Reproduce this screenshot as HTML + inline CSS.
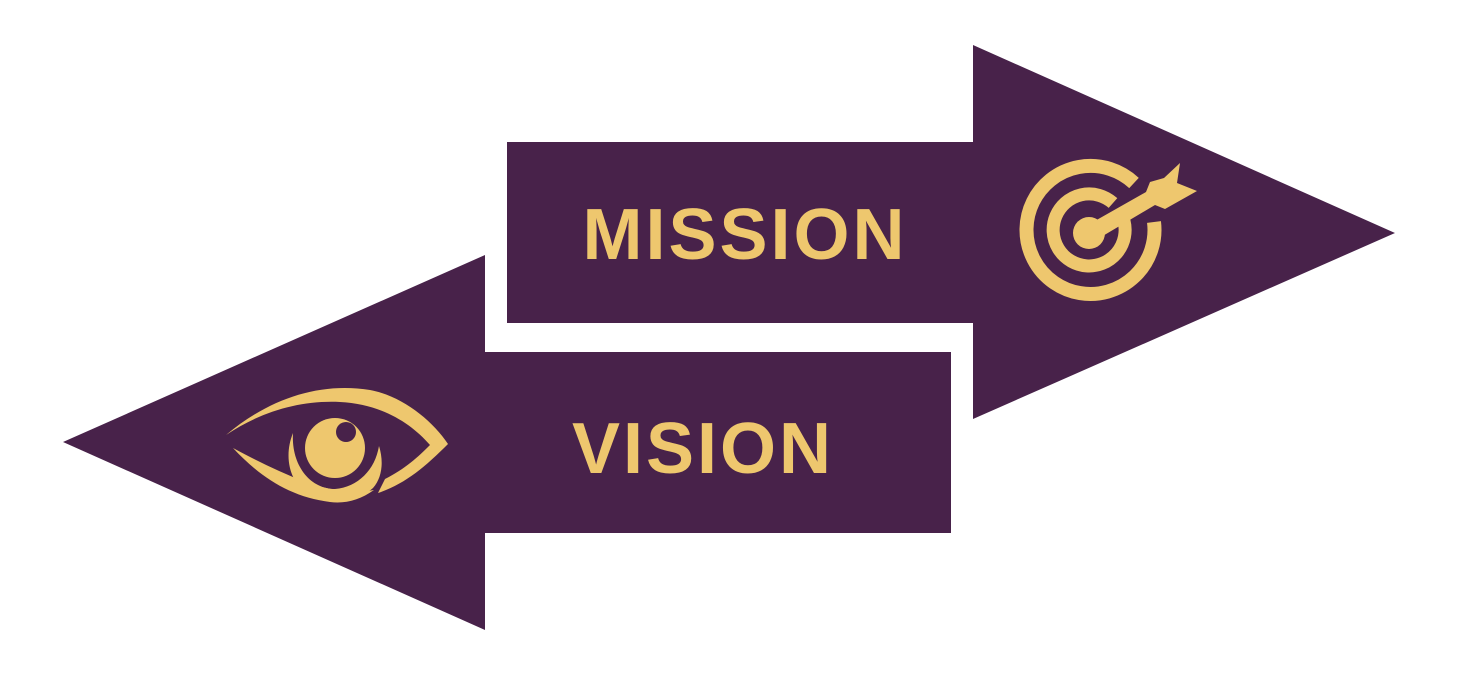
<!DOCTYPE html>
<html><head><style>
html,body{margin:0;padding:0;background:#fff;}
svg{display:block}
</style></head><body>
<svg width="1473" height="690" viewBox="0 0 1473 690" xmlns="http://www.w3.org/2000/svg">
<polygon fill="#48224a" points="507,142 973,142 973,45 1395,233 973,419 973,323 507,323"/>
<polygon fill="#48224a" points="951,352 485,352 485,255 63,442 485,630 485,533 951,533"/>
<text x="745" y="259" font-family="Liberation Sans, sans-serif" font-weight="bold" font-size="72" fill="#eec76e" text-anchor="middle" letter-spacing="3">MISSION</text>
<text x="703" y="473" font-family="Liberation Sans, sans-serif" font-weight="bold" font-size="72" fill="#eec76e" text-anchor="middle" letter-spacing="3">VISION</text>
<g fill="none" stroke="#eec76e">
<path d="M1134,183 A64,64 0 1 0 1154,222" stroke-width="14"/>
<path d="M1113,203 A36,36 0 1 0 1124,221" stroke-width="13"/>
</g>
<circle cx="1089" cy="233" r="16" fill="#eec76e"/>
<polygon fill="#eec76e" points="1086,226 1146,192 1150,182 1164,178 1180,163 1177,183 1197,191 1165,209 1155,205 1096,240"/>
<g fill="#eec76e">
<path d="M226,435 C270,398 320,382 370,390 C402,396 432,420 448,444 C425,467 405,484 378,493 L385,479 C405,469 418,457 430,445 C410,422 380,404 340,402 C300,400 260,412 226,435 Z"/>
<path d="M233,448 C260,477 290,497 330,502 C345,504 360,500 374,490 C350,494 330,490 305,482 C280,472 255,460 233,448 Z"/>
<path d="M293,433 C284,455 288,482 310,496 C330,506 356,503 373,488 C382,478 384,462 379,446 C375,470 358,487 335,489 C310,489 291,465 293,433 Z"/>
<circle cx="335" cy="448" r="30"/>
</g>
<circle cx="346" cy="432" r="10" fill="#48224a"/>
</svg>
</body></html>
